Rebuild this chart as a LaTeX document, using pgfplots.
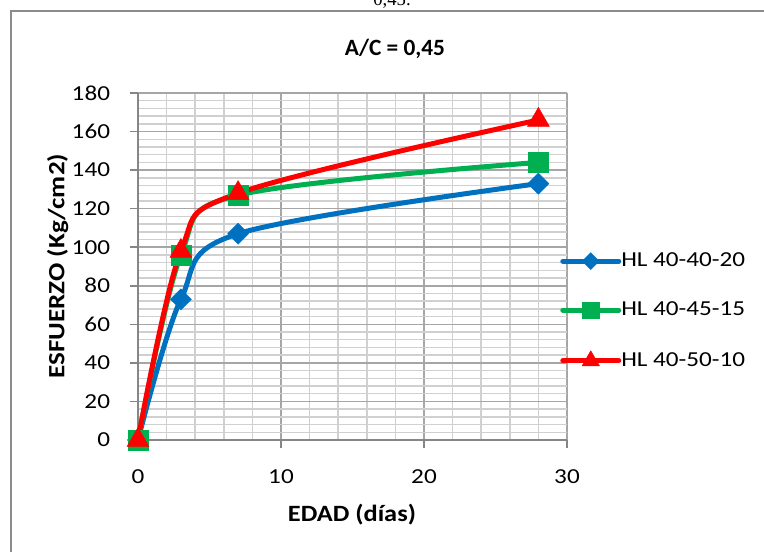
\documentclass[border=0pt]{standalone}
\usepackage{fontspec}
\setmainfont{Carlito}
\newfontfamily\seriffont{Liberation Serif}
\usepackage{pgfplots}
\pgfplotsset{compat=1.18}
\definecolor{cblue}{HTML}{0070C0}
\definecolor{cgreen}{HTML}{00B050}
\definecolor{cred}{HTML}{FF0000}
\definecolor{gmaj}{HTML}{A6A6A6}
\definecolor{gmin}{HTML}{D0D0D0}
\definecolor{axc}{HTML}{868686}
\definecolor{framec}{HTML}{8C8C8C}
\begin{document}
\fontsize{16}{19}\selectfont
\begin{tikzpicture}
\useasboundingbox (0,0) rectangle (573pt,-414pt);
\clip (0,0) rectangle (573pt,-414pt);
\draw[framec, line width=1.5pt] (8.25pt,-8.25pt) rectangle (620pt,-460pt);
\node[font=\seriffont\fontsize{14}{16}\selectfont, anchor=base, inner sep=0pt] at (294pt,-4.5pt) {0,45.};
\begin{axis}[
  at={(103.5pt,-330pt)}, anchor=south west,
  scale only axis, width=321.75pt, height=260.25pt,
  xmin=0, xmax=30, ymin=0, ymax=180,
  xtick={0,10,20,30}, ytick={0,20,...,180},
  minor x tick num=4, minor y tick num=4,
  grid=both,
  major grid style={gmaj, line width=1.1pt},
  minor grid style={gmin, line width=1.1pt},
  axis lines=left,
  axis line style={axc, line width=1.1pt, -},
  tick align=outside,
  major tick length=6pt, minor tick length=0pt,
  tick style={axc, line width=1.1pt},
  /pgf/number format/assume math mode=true,
  ticklabel style={font=\fontsize{16}{19}\selectfont, xscale=1.18},
  yticklabel style={inner sep=0pt, anchor=east, xshift=-12.5pt},
  xticklabel style={inner sep=0pt, anchor=north, yshift=-16pt},
  clip=false,
  title={A/C = 0,45},
  title style={at={(axis description cs:0.599,1.104)}, anchor=center, font=\bfseries\fontsize{17.5}{21}\selectfont},
  xlabel={EDAD (días)},
  xlabel style={at={(axis description cs:0.4988,-0.2161)}, anchor=center, xscale=1.13, font=\bfseries\fontsize{17.5}{21}\selectfont},
  ylabel={ESFUERZO (Kg/cm2)},
  ylabel style={at={(axis description cs:-0.187,0.501)}, anchor=center, xscale=1.16, font=\bfseries\fontsize{17.5}{21}\selectfont},
  legend style={at={(axis description cs:0.9837,0.3718)}, anchor=west, draw=none, fill=none,
    inner sep=0pt, row sep=24pt, nodes={inner sep=0pt, anchor=west, xscale=1.18},
    font=\fontsize{16}{19}\selectfont},
  legend cell align=left,
  /tikz/every even column/.append style={column sep=3pt},
  legend image code/.code={
    \begin{scope}[every mark/.append style={scale=0.8}]
    \draw[mark repeat=2, mark phase=2, #1] plot coordinates {(0pt,0pt) (21pt,0pt) (42pt,0pt)};
    \end{scope}
  },
]
\addplot[cblue, line width=3.75pt, line cap=round, smooth, tension=0.55,
  mark=square*, mark size=5.6pt, mark options={solid, rotate=45, line width=0.3pt, fill=cblue}]
  coordinates {(0,0) (3,73) (7,107) (28,133)};
\addlegendentry{HL 40-40-20}
\addplot[cgreen, line width=3.75pt, line cap=round, smooth, tension=0.55,
  mark=square*, mark size=7.6pt, mark options={solid, line width=0.3pt, fill=cgreen}]
  coordinates {(0,0) (3,96) (7,127) (28,144)};
\addlegendentry{HL 40-45-15}
\addplot[cred, line width=3.75pt, line cap=round, smooth, tension=0.55,
  mark=triangle*, mark size=9.5pt, mark options={solid, line width=0.3pt, fill=cred}]
  coordinates {(0,0) (3,98) (7,128) (28,166)};
\addlegendentry{HL 40-50-10}
\end{axis}
\end{tikzpicture}
\end{document}
